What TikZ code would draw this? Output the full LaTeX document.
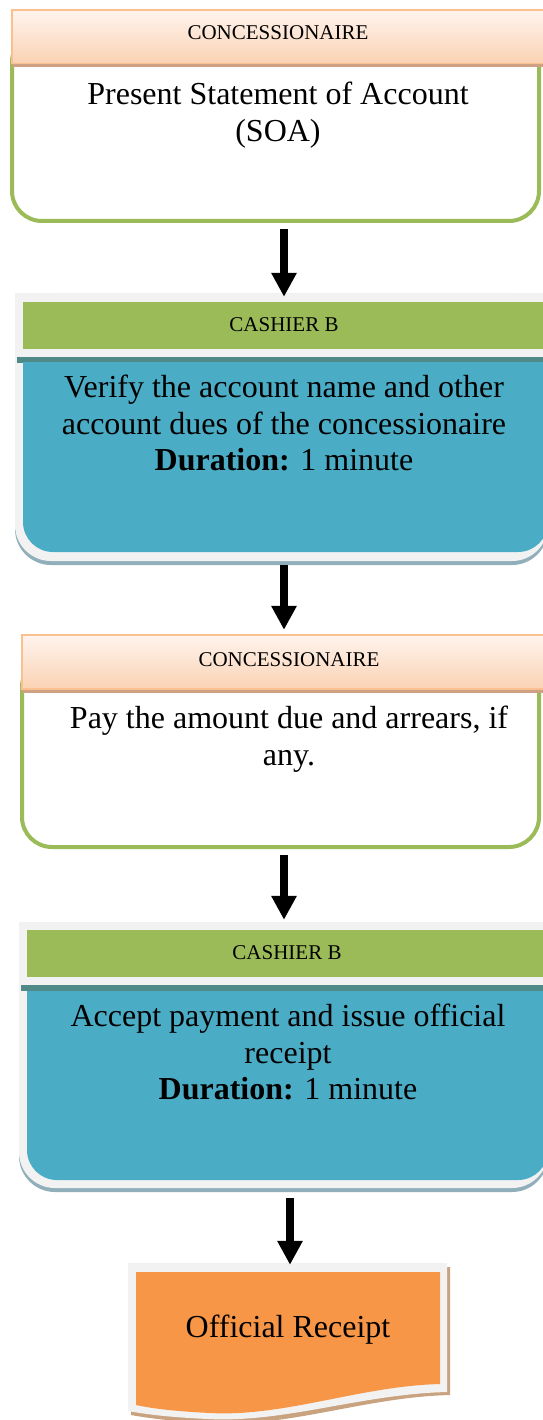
\documentclass[tikz,border=0pt]{standalone}
\usepackage{fontspec}
\setmainfont{Liberation Serif}
\usetikzlibrary{arrows.meta,fit}

\definecolor{accgreen}{HTML}{9BBB59}
\definecolor{accblue}{HTML}{4BACC6}
\definecolor{accorange}{HTML}{F79646}
\definecolor{peachtop}{HTML}{FFF4EE}
\definecolor{peachbot}{HTML}{FAD2B3}
\definecolor{peachline}{HTML}{FAC090}
\definecolor{peachshade}{HTML}{CFA184}
\definecolor{paper}{HTML}{F2F2F2}
\definecolor{tealrule}{HTML}{4F8A88}
\definecolor{blueshade}{HTML}{90AFBA}
\definecolor{docshade}{HTML}{C9A27F}

\tikzset{
  bigtext/.style={font=\fontsize{32}{36.5}\selectfont, align=center, inner sep=0pt},
  headtext/.style={font=\fontsize{21}{24}\selectfont, inner sep=0pt},
  flow/.style={line width=8pt, -{Triangle[width=24pt,length=24pt]}},
  outline/.style={draw=accgreen, line width=4pt, fill=white, rounded corners=30pt},
  header/.style={top color=peachtop, bottom color=peachbot, draw=peachline, line width=1.5pt},
  frame/.style={inner sep=0pt, draw=none},
}

\begin{document}
\begin{tikzpicture}[x=1pt,y=-1pt]
\useasboundingbox[fill=white] (0,0) rectangle (542,1420);

% ---- step 1: concessionaire presents the SOA
\draw[outline] (12,32) rectangle (539,221);
\fill[peachshade] (12,13) rectangle (548,67);
\shade[header] (12,10) rectangle (548,63.5);
\node[headtext] (h1) at (278,33) {CONCESSIONAIRE};
\node[bigtext] (t1) at (278,115) {Present Statement of Account\\(SOA)};
\node[frame, fit={(12,10) (539,222)}] (box1) {};

% ---- step 2: cashier verifies the account
\fill[blueshade, rounded corners=36pt] (15,296) rectangle (548,565);
\fill[paper, rounded corners=36pt] (15,293) rectangle (548,561);
\fill[paper] (15,293) rectangle (548,340);
\fill[accgreen] (23,302) rectangle (548,349);
\fill[tealrule] (17,357) rectangle (548,363);
\fill[accblue, rounded corners=30pt] (23,362) rectangle (548,552);
\fill[accblue] (23,362) rectangle (548,400);
\node[headtext] (h2) at (284,325) {CASHIER B};
\node[bigtext] (t2) at (284,423) {Verify the account name and other\\account dues of the concessionaire\\\textbf{Duration:} 1 minute};
\node[frame, fit={(15,293) (545,565)}] (box2) {};

% ---- step 3: concessionaire pays
\draw[outline] (22,657) rectangle (539,847);
\fill[peachshade] (22,638) rectangle (548,693);
\shade[header] (22,635) rectangle (548,689);
\node[headtext] (h3) at (289,660) {CONCESSIONAIRE};
\node[bigtext] (t3) at (289,739) {Pay the amount due and arrears, if\\any.};
\node[frame, fit={(22,635) (545,850)}] (box3) {};

% ---- step 4: cashier accepts payment
\fill[blueshade, rounded corners=36pt] (19,925) rectangle (548,1192);
\fill[paper, rounded corners=36pt] (19,922) rectangle (548,1188);
\fill[paper] (19,922) rectangle (548,970);
\fill[accgreen] (27,930) rectangle (548,977);
\fill[tealrule] (21,985) rectangle (548,991);
\fill[accblue, rounded corners=30pt] (27,991) rectangle (548,1180);
\fill[accblue] (27,991) rectangle (548,1030);
\node[headtext] (h4) at (287,953) {CASHIER B};
\node[bigtext] (t4) at (288,1052) {Accept payment and issue official\\receipt\\\textbf{Duration:} 1 minute};
\node[frame, fit={(19,922) (545,1192)}] (box4) {};

% ---- output document
\fill[docshade] (131,1267) -- (450,1267) -- (450,1395)
  .. controls (365,1397) and (288,1428) .. (211,1423)
  .. controls (168,1421) and (148,1418) .. (131,1415) -- cycle;
\fill[paper] (128,1263) -- (447,1263) -- (447,1392)
  .. controls (362,1394) and (285,1423) .. (208,1419)
  .. controls (165,1417) and (145,1414) .. (128,1411) -- cycle;
\fill[accorange] (136,1272) -- (440,1272) -- (440,1384)
  .. controls (360,1386) and (285,1417) .. (210,1413)
  .. controls (170,1411) and (150,1408) .. (136,1405) -- cycle;
\node[bigtext] (t5) at (288,1330) {Official Receipt};
\node[frame, fit={(128,1263) (447,1415)}] (box5) {};

% ---- connectors
\draw[flow] ([xshift=8.5pt,yshift=-7pt]box1.south) -- ([xshift=4pt,yshift=-4pt]box2.north);
\draw[flow] ([xshift=4pt]box2.south) -- ([xshift=0.5pt,yshift=5pt]box3.north);
\draw[flow] ([xshift=0.5pt,yshift=-5pt]box3.south) -- ([xshift=2pt,yshift=2pt]box4.north);
\draw[flow] ([xshift=8pt,yshift=-6pt]box4.south) -- ([xshift=2.5pt,yshift=-2pt]box5.north);
\end{tikzpicture}
\end{document}
